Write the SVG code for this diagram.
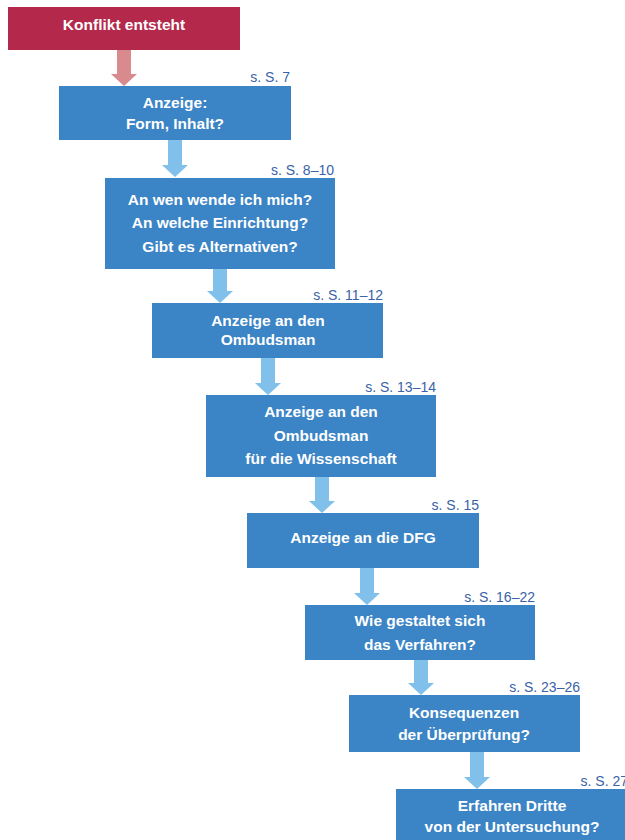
<svg xmlns="http://www.w3.org/2000/svg" width="625" height="840" viewBox="0 0 625 840">
<style>
.box{fill:#3b84c5;}
.start{fill:#b3284b;}
.t{font-family:"Liberation Sans",Arial,sans-serif;font-weight:bold;font-size:15.5px;fill:#ffffff;text-anchor:middle;}
.ref{font-family:"Liberation Sans",Arial,sans-serif;font-size:14px;fill:#3a62a8;text-anchor:end;}
.arr{fill:#80c0ea;}
.arrR{fill:#d98a8c;}
</style>
<rect width="625" height="840" fill="#ffffff"/>
<g id="connectors">
<polygon class="arrR" points="117,50 131,50 131,74 137,74 124,86 111,74 117,74"/>
<polygon class="arr" points="168,140 182,140 182,165 188,165 175,177 162,165 168,165"/>
<polygon class="arr" points="213,269 227,269 227,291 233,291 220,303 207,291 213,291"/>
<polygon class="arr" points="261,358 275,358 275,383 281,383 268,395 255,383 261,383"/>
<polygon class="arr" points="315,477 329,477 329,501 335,501 322,513 309,501 315,501"/>
<polygon class="arr" points="360,568 374,568 374,593 380,593 367,605 354,593 360,593"/>
<polygon class="arr" points="414,660 428,660 428,683 434,683 421,695 408,683 414,683"/>
<polygon class="arr" points="470,752 484,752 484,777 490,777 477,789 464,777 470,777"/>
</g>
<g id="n0">
<rect class="start" x="8" y="7" width="232" height="43"/>
<text class="t" x="124" y="30">Konflikt entsteht</text>
</g>
<g id="n1">
<rect class="box" x="59" y="86" width="232" height="54"/>
<text class="ref" x="290" y="82">s. S. 7</text>
<text class="t" x="175" y="108">Anzeige:</text>
<text class="t" x="175" y="129">Form, Inhalt?</text>
</g>
<g id="n2">
<rect class="box" x="105" y="178" width="230" height="91"/>
<text class="ref" x="334" y="175">s. S. 8–10</text>
<text class="t" x="220" y="205">An wen wende ich mich?</text>
<text class="t" x="220" y="228">An welche Einrichtung?</text>
<text class="t" x="220" y="252">Gibt es Alternativen?</text>
</g>
<g id="n3">
<rect class="box" x="152" y="303" width="231" height="55"/>
<text class="ref" x="383" y="300">s. S. 11–12</text>
<text class="t" x="268" y="326">Anzeige an den</text>
<text class="t" x="268" y="345">Ombudsman</text>
</g>
<g id="n4">
<rect class="box" x="206" y="395" width="230" height="82"/>
<text class="ref" x="436" y="392">s. S. 13–14</text>
<text class="t" x="321" y="417">Anzeige an den</text>
<text class="t" x="321" y="441">Ombudsman</text>
<text class="t" x="321" y="464">für die Wissenschaft</text>
</g>
<g id="n5">
<rect class="box" x="247" y="513" width="232" height="55"/>
<text class="ref" x="479" y="510">s. S. 15</text>
<text class="t" x="363" y="543">Anzeige an die DFG</text>
</g>
<g id="n6">
<rect class="box" x="305" y="605" width="230" height="55"/>
<text class="ref" x="535" y="602">s. S. 16–22</text>
<text class="t" x="420" y="626">Wie gestaltet sich</text>
<text class="t" x="420" y="650">das Verfahren?</text>
</g>
<g id="n7">
<rect class="box" x="349" y="695" width="231" height="57"/>
<text class="ref" x="580" y="692">s. S. 23–26</text>
<text class="t" x="464" y="718">Konsequenzen</text>
<text class="t" x="464" y="740">der Überprüfung?</text>
</g>
<g id="n8">
<rect class="box" x="396" y="789" width="232" height="55"/>
<text class="ref" x="628" y="786">s. S. 27</text>
<text class="t" x="512" y="811">Erfahren Dritte</text>
<text class="t" x="512" y="832">von der Untersuchung?</text>
</g>
</svg>
